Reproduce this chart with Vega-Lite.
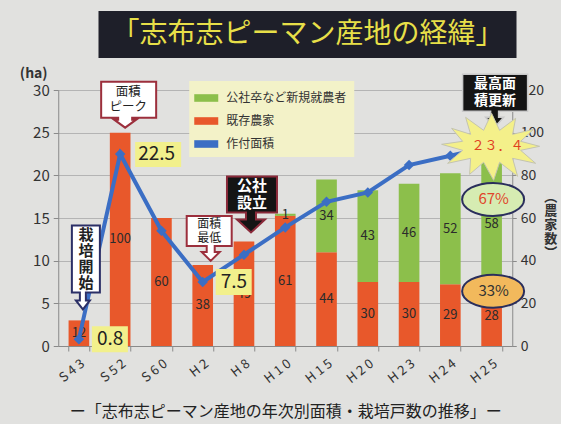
{
  "$schema": "https://vega.github.io/schema/vega-lite/v6.json",
  "background": "#e1e1df",
  "padding": {"left": 19, "top": 11, "right": 4, "bottom": 4},
  "config": {"font": "Noto Sans CJK JP", "view": {"stroke": null}},
  "datasets": {
    "farms": [
      {"year": "S43", "type": "既存農家", "n": 12},
      {"year": "S52", "type": "既存農家", "n": 100},
      {"year": "S60", "type": "既存農家", "n": 60},
      {"year": "H2", "type": "既存農家", "n": 38},
      {"year": "H8", "type": "既存農家", "n": 49},
      {"year": "H10", "type": "既存農家", "n": 61},
      {"year": "H10", "type": "公社卒など新規就農者", "n": 1},
      {"year": "H15", "type": "既存農家", "n": 44},
      {"year": "H15", "type": "公社卒など新規就農者", "n": 34},
      {"year": "H20", "type": "既存農家", "n": 30},
      {"year": "H20", "type": "公社卒など新規就農者", "n": 43},
      {"year": "H23", "type": "既存農家", "n": 30},
      {"year": "H23", "type": "公社卒など新規就農者", "n": 46},
      {"year": "H24", "type": "既存農家", "n": 29},
      {"year": "H24", "type": "公社卒など新規就農者", "n": 52},
      {"year": "H25", "type": "既存農家", "n": 28, "share": "33%"},
      {"year": "H25", "type": "公社卒など新規就農者", "n": 58, "share": "67%"}
    ],
    "area": [
      {"year": "S43", "area": 0.8},
      {"year": "S52", "area": 22.5},
      {"year": "S60", "area": 13.5},
      {"year": "H2", "area": 7.5},
      {"year": "H8", "area": 10.7},
      {"year": "H10", "area": 13.9},
      {"year": "H15", "area": 16.9},
      {"year": "H20", "area": 18.0},
      {"year": "H23", "area": 21.2},
      {"year": "H24", "area": 22.3},
      {"year": "H25", "area": 23.4}
    ]
  },
  "center": true,
  "spacing": 8,
  "resolve": {"legend": {"color": "independent"}},
  "vconcat": [
    {
      "width": 418,
      "height": 47,
      "data": {"values": [{"title": "「志布志ピーマン産地の経緯」"}]},
      "layer": [
        {"mark": {"type": "rect", "color": "#1e1f29"}},
        {"mark": {"type": "text", "fontSize": 28, "color": "#e7df48"}, "encoding": {"text": {"field": "title"}}}
      ]
    },
    {
      "width": 454,
      "height": 256,
      "encoding": {
        "x": {
          "field": "year", "type": "nominal",
          "sort": ["S43", "S52", "S60", "H2", "H8", "H10", "H15", "H20", "H23", "H24", "H25"],
          "scale": {"paddingInner": 0.5, "paddingOuter": 0.25},
          "axis": {
            "title": "ー「志布志ピーマン産地の年次別面積・栽培戸数の推移」ー",
            "titleFontSize": 16, "titleFontWeight": "normal", "titleColor": "#222", "titlePadding": 18,
            "labelAngle": -38, "labelFontSize": 13, "labelColor": "#333", "labelPadding": 6,
            "labelExpr": "join(split(datum.label, ''), ' ')",
            "domainColor": "#8a8a8a", "tickColor": "#8a8a8a", "tickSize": 5, "tickBand": "extent", "grid": false
          }
        }
      },
      "resolve": {"scale": {"y": "independent"}},
      "layer": [
        {
          "data": {"name": "farms"},
          "mark": {"type": "bar"},
          "encoding": {
            "y": {
              "field": "n", "type": "quantitative", "stack": "zero",
              "scale": {"domain": [0, 120]},
              "axis": {
                "orient": "right", "values": [0, 20, 40, 60, 80, 100, 120],
                "title": ["︵", "農", "家", "数", "︶"], "titleAngle": 0, "titleX": 38, "titleY": 100,
                "titleAlign": "center", "titleBaseline": "top", "titleFontSize": 13, "titleFontWeight": "bold",
                "titleLineHeight": 14, "titleColor": "#333",
                "labelFontSize": 14, "labelColor": "#333", "labelPadding": 4,
                "domainColor": "#8a8a8a", "tickColor": "#8a8a8a", "tickSize": 4, "grid": false
              }
            },
            "color": {
              "field": "type", "type": "nominal",
              "scale": {"domain": ["公社卒など新規就農者", "既存農家", "作付面積"], "range": ["#8cbf4b", "#e8582b", "#3b6ec4"]},
              "legend": {
                "orient": "none", "legendX": 131, "legendY": -9, "title": null,
                "fillColor": "#f3f2c8", "padding": 7, "labelFontSize": 12, "labelColor": "#333",
                "rowPadding": 7, "symbolType": "M-1.2,-0.38H1.2V0.38H-1.2Z", "symbolSize": 400,
                "symbolStrokeWidth": 0, "labelOffset": 10, "symbolOpacity": 1
              }
            },
            "order": {"field": "type", "sort": "descending"}
          }
        },
        {
          "data": {"name": "farms"},
          "transform": [
            {"stack": "n", "groupby": ["year"], "sort": [{"field": "type", "order": "descending"}], "as": ["lo", "hi"]},
            {"calculate": "(datum.lo + datum.hi) / 2", "as": "mid"}
          ],
          "mark": {"type": "text", "fontSize": 13, "color": "#2b2b2b"},
          "encoding": {
            "y": {"field": "mid", "type": "quantitative", "scale": {"domain": [0, 120]}, "axis": null},
            "text": {"field": "n", "type": "quantitative"}
          }
        },
        {
          "data": {"name": "area"},
          "mark": {"type": "line", "strokeWidth": 4},
          "encoding": {
            "y": {
              "field": "area", "type": "quantitative", "scale": {"domain": [0, 30]},
              "axis": {
                "orient": "left", "values": [0, 5, 10, 15, 20, 25, 30],
                "title": "(ha)", "titleAngle": 0, "titleX": -25, "titleY": -17,
                "titleAlign": "center", "titleBaseline": "middle", "titleFontSize": 14, "titleFontWeight": "bold", "titleColor": "#333",
                "labelFontSize": 15, "labelColor": "#333", "labelPadding": 4,
                "grid": true, "gridColor": "#b4b4b4", "domainColor": "#8a8a8a", "tickColor": "#8a8a8a", "tickSize": 5
              }
            },
            "color": {"datum": "作付面積"}
          }
        },
        {
          "data": {"name": "area"},
          "mark": {"type": "point", "shape": "diamond", "filled": true, "size": 110, "opacity": 1},
          "encoding": {
            "y": {"field": "area", "type": "quantitative", "scale": {"domain": [0, 30]}, "axis": null},
            "color": {"datum": "作付面積"}
          }
        },
        {
          "data": {"name": "farms"},
          "transform": [
            {"aggregate": [{"op": "sum", "field": "n", "as": "total"}], "groupby": ["year"]},
            {"filter": "datum.year === 'S43'"}
          ],
          "layer": [
            {
              "mark": {"type": "point", "size": 4, "opacity": 1, "filled": true, "fill": "#ffffff", "stroke": "#2b2f66", "strokeWidth": 2,
                "shape": "M-7,-95H21V-28H7V-20H11L4,-11L-3,-20H1V-28H-7Z"}
            },
            {
              "mark": {"type": "text", "text": ["栽", "培", "開", "始"], "fontSize": 15, "lineHeight": 16, "color": "#222", "fontWeight": "bold", "dx": 7, "dy": -85, "baseline": "middle"}
            }
          ],
          "encoding": {"y": {"field": "total", "type": "quantitative", "scale": {"domain": [0, 120]}, "axis": null}}
        },
        {
          "data": {"name": "farms"},
          "transform": [
            {"aggregate": [{"op": "sum", "field": "n", "as": "total"}], "groupby": ["year"]},
            {"filter": "datum.year === 'S52'"}
          ],
          "layer": [
            {
              "mark": {"type": "point", "size": 4, "opacity": 1, "filled": true, "fill": "#ffffff", "stroke": "#9c2f3c", "strokeWidth": 2,
                "shape": "M-19,-51H36V-15H12V-13H16L5,-5L-6,-13H-2V-15H-19Z"}
            },
            {
              "mark": {"type": "text", "text": ["面積", "ピーク"], "fontSize": 12.5, "lineHeight": 15, "color": "#222", "dx": 8, "dy": -40.5, "baseline": "middle"}
            }
          ],
          "encoding": {"y": {"field": "total", "type": "quantitative", "scale": {"domain": [0, 120]}, "axis": null}}
        },
        {
          "data": {"name": "farms"},
          "transform": [
            {"aggregate": [{"op": "sum", "field": "n", "as": "total"}], "groupby": ["year"]},
            {"filter": "datum.year === 'H2'"}
          ],
          "layer": [
            {
              "mark": {"type": "point", "size": 4, "opacity": 1, "filled": true, "fill": "#ffffff", "stroke": "#9c2f3c", "strokeWidth": 2,
                "shape": "M-16,-49H29V-19H12V-13H17L8,-4L-1,-13H4V-19H-16Z"}
            },
            {
              "mark": {"type": "text", "text": ["面積", "最低"], "fontSize": 12, "lineHeight": 14, "color": "#222", "dx": 6.5, "dy": -41, "baseline": "middle"}
            }
          ],
          "encoding": {"y": {"field": "total", "type": "quantitative", "scale": {"domain": [0, 120]}, "axis": null}}
        },
        {
          "data": {"name": "farms"},
          "transform": [
            {"aggregate": [{"op": "sum", "field": "n", "as": "total"}], "groupby": ["year"]},
            {"filter": "datum.year === 'H8'"}
          ],
          "layer": [
            {
              "mark": {"type": "point", "size": 4, "opacity": 1, "filled": true, "fill": "#141414", "stroke": "#8a2a3a", "strokeWidth": 2,
                "shape": "M-17,-65H33V-29H12V-22H21L7,-9L-7,-22H2V-29H-17Z"}
            },
            {
              "mark": {"type": "text", "text": ["公社", "設立"], "fontSize": 15, "lineHeight": 17, "color": "#ffffff", "fontWeight": "bold", "dx": 8, "dy": -55.5, "baseline": "middle"}
            }
          ],
          "encoding": {"y": {"field": "total", "type": "quantitative", "scale": {"domain": [0, 120]}, "axis": null}}
        },
        {
          "data": {"name": "area"},
          "transform": [{"filter": "datum.year === 'H25'"}],
          "layer": [
            {
              "mark": {"type": "point", "size": 4, "opacity": 1, "filled": true, "fill": "#141414", "stroke": "#c9c9c9", "strokeWidth": 1.5,
                "shape": "M-29,-72H36V-35H7V-29H12L3,-19L-6,-29H-1V-35H-29Z"}
            },
            {
              "mark": {"type": "text", "text": ["最高面", "積更新"], "fontSize": 14, "lineHeight": 17, "color": "#ffffff", "fontWeight": "bold", "dx": 3.5, "dy": -62, "baseline": "middle"}
            },
            {
              "mark": {"type": "point", "size": 4, "opacity": 1, "filled": true, "fill": "#f4f08a", "stroke": "#c4c4b0", "strokeWidth": 1,
                "shape": "M48,0L29,4L44,17L21,12L26,30L8,16L2,34L-8,16L-22,28L-21,12L-44,17L-29,4L-50,-2L-29,-5L-40,-18L-21,-12L-26,-29L-8,-16L0,-33L8,-16L24,-28L21,-12L42,-17L29,-5Z"}
            },
            {
              "mark": {"type": "text", "text": "２３．４", "fontSize": 13, "color": "#e0401f", "dx": 6, "baseline": "middle"}
            }
          ],
          "encoding": {"y": {"field": "area", "type": "quantitative", "scale": {"domain": [0, 30]}, "axis": null}}
        },
        {
          "data": {"name": "farms"},
          "transform": [
            {"stack": "n", "groupby": ["year"], "sort": [{"field": "type", "order": "descending"}], "as": ["lo", "hi"]},
            {"calculate": "(datum.lo + datum.hi) / 2", "as": "mid"},
            {"filter": "isValid(datum.share)"}
          ],
          "layer": [
            {
              "mark": {"type": "point", "size": 4, "opacity": 1, "filled": true, "stroke": "#2a2e5c", "strokeWidth": 2,
                "shape": "M-29.5,-25C-29.5,-34.1 -15.6,-41.5 1.5,-41.5C18.6,-41.5 32.5,-34.1 32.5,-25C32.5,-15.9 18.6,-8.5 1.5,-8.5C-15.6,-8.5 -29.5,-15.9 -29.5,-25Z"},
              "encoding": {
                "fill": {"condition": {"test": "datum.type === '既存農家'", "value": "#f2b95c"}, "value": "#d6ecb2"}
              }
            },
            {
              "mark": {"type": "text", "fontSize": 15, "dx": 2, "dy": -25, "baseline": "middle"},
              "encoding": {
                "text": {"field": "share"},
                "fill": {"condition": {"test": "datum.type === '既存農家'", "value": "#333333"}, "value": "#e0462a"}
              }
            }
          ],
          "encoding": {"y": {"field": "mid", "type": "quantitative", "scale": {"domain": [0, 120]}, "axis": null}}
        },
        {
          "data": {"name": "area"},
          "transform": [{"filter": "datum.year === 'S43' || datum.year === 'H2' || datum.year === 'S52'"}],
          "layer": [
            {
              "transform": [{"filter": "datum.year !== 'S52'"}],
              "mark": {"type": "point", "size": 4, "opacity": 1, "filled": true, "fill": "#f2f08c", "strokeWidth": 0,
                "shape": "M13,-13H49V13H13Z"}
            },
            {
              "transform": [{"filter": "datum.year === 'S52'"}],
              "mark": {"type": "point", "size": 4, "opacity": 1, "filled": true, "fill": "#f2f08c", "strokeWidth": 0,
                "shape": "M15,-12H61V13H15Z"}
            },
            {
              "mark": {"type": "text", "fontSize": 19, "color": "#222", "align": "left", "dx": 18, "baseline": "middle"},
              "encoding": {"text": {"field": "area", "type": "quantitative", "format": ".1f"}}
            }
          ],
          "encoding": {"y": {"field": "area", "type": "quantitative", "scale": {"domain": [0, 30]}, "axis": null}}
        }
      ]
    }
  ]
}
